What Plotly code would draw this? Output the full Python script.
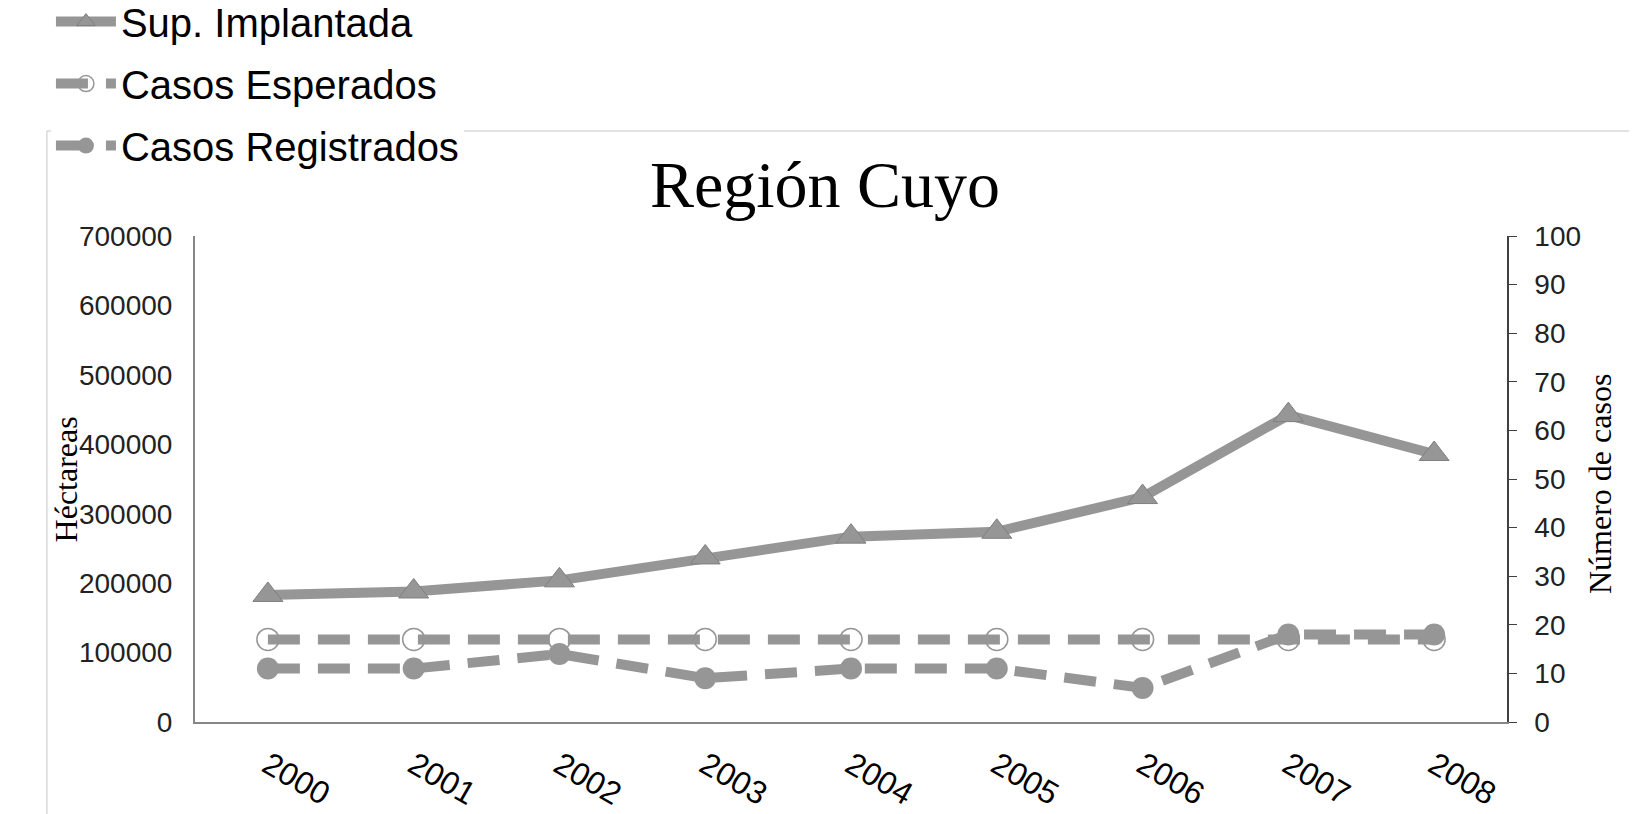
"""
Región Cuyo: superficie implantada y casos esperados / registrados.
"""

import plotly.graph_objects as go

# Datos
ANIOS = ["2000", "2001", "2002", "2003", "2004", "2005", "2006", "2007", "2008"]
SUP_IMPLANTADA = [183000, 188000, 204000, 237000, 267000, 274000, 324000, 442000, 386000]
CASOS_ESPERADOS = [17, 17, 17, 17, 17, 17, 17, 17, 17]
CASOS_REGISTRADOS = [11, 11, 14, 9, 11, 11, 7, 18, 18]

GRIS = "#969696"
GRIS_BORDE = "#7f7f7f"
FUENTE = "Liberation Sans, Arial, sans-serif"
FUENTE_SERIF = "Liberation Serif, Times New Roman, serif"

# la página deja 8 px de margen alrededor de la figura
ANCHO, ALTO = 1629, 806

fig = go.Figure()

fig.add_trace(go.Scatter(
    x=ANIOS, y=SUP_IMPLANTADA,
    name="Sup. Implantada",
    mode="lines+markers",
    line=dict(color=GRIS, width=10),
    marker=dict(symbol="triangle-up", size=26, color=GRIS,
                line=dict(color=GRIS_BORDE, width=1)),
    legendgroup="a",
    yaxis="y",
))

fig.add_trace(go.Scatter(
    x=ANIOS, y=CASOS_ESPERADOS,
    name="Casos Esperados",
    mode="lines+markers",
    line=dict(color=GRIS, width=10, dash="32px,18px"),
    marker=dict(symbol="circle-open", size=22, color=GRIS,
                line=dict(color=GRIS, width=1.5)),
    legendgroup="b",
    yaxis="y2",
))

fig.add_trace(go.Scatter(
    x=ANIOS, y=CASOS_REGISTRADOS,
    name="Casos Registrados",
    mode="lines+markers",
    line=dict(color=GRIS, width=10, dash="32px,18px"),
    marker=dict(symbol="circle", size=22, color=GRIS),
    legendgroup="c",
    yaxis="y2",
))

fig.update_layout(
    width=ANCHO,
    height=ALTO,
    paper_bgcolor="white",
    plot_bgcolor="white",
    font=dict(family=FUENTE, color="black"),
    margin=dict(l=187, r=130, t=228, b=92, autoexpand=False),
    title=dict(
        text="Región Cuyo",
        font=dict(family=FUENTE_SERIF, size=66, color="black"),
        x=817 / ANCHO, xanchor="center",
        y=1 - 176 / ALTO, yanchor="middle",
    ),
    legend=dict(
        xref="paper", yref="paper",
        x=-0.1098, y=1.508,
        xanchor="left", yanchor="top",
        bgcolor="white",
        font=dict(family=FUENTE, size=40, color="black"),
        traceorder="grouped",
        tracegroupgap=7,
        itemwidth=60,
    ),
    xaxis=dict(
        type="category",
        range=[-0.5, 8.5],
        showgrid=False,
        showline=True,
        linecolor="#868686",
        linewidth=2,
        ticks="",
        tickangle=30,
        tickfont=dict(size=32, color="black"),
        ticklabelstandoff=10,
        zeroline=False,
    ),
    yaxis=dict(
        range=[0, 700000],
        dtick=100000,
        tickformat="d",
        showgrid=False,
        showline=True,
        linecolor="#868686",
        linewidth=2,
        ticks="",
        tickfont=dict(size=28, color="#222222"),
        ticklabelstandoff=15,
        zeroline=False,
    ),
    yaxis2=dict(
        range=[0, 100],
        dtick=10,
        overlaying="y",
        side="right",
        showgrid=False,
        showline=True,
        linecolor="#404040",
        linewidth=1.5,
        ticks="outside",
        ticklen=8,
        tickcolor="#404040",
        tickfont=dict(size=28, color="#222222"),
        ticklabelstandoff=12,
        zeroline=False,
    ),
    yaxis3=dict(
        range=[0, 100],
        dtick=10,
        overlaying="y",
        side="right",
        showgrid=False,
        showline=False,
        ticks="inside",
        ticklen=8,
        tickcolor="#404040",
        showticklabels=False,
        zeroline=False,
    ),
)

# títulos de ejes
fig.add_annotation(
    text="Héctareas", textangle=-90,
    xref="paper", yref="paper",
    x=-0.098, y=0.50, xanchor="center", yanchor="middle",
    showarrow=False,
    font=dict(family=FUENTE_SERIF, size=32, color="black"),
)
fig.add_annotation(
    text="Número de casos", textangle=-90,
    xref="paper", yref="paper",
    x=1.071, y=0.49, xanchor="center", yanchor="middle",
    showarrow=False,
    font=dict(family=FUENTE_SERIF, size=32, color="black"),
)

# borde del área del gráfico
borde_y = 1 + (236 - 131) / 486
fig.add_shape(
    type="line", xref="paper", yref="paper",
    x0=-0.1129, x1=1.1, y0=borde_y, y1=borde_y,
    line=dict(color="#d9d9d9", width=1.5), layer="below",
)
fig.add_shape(
    type="line", xref="paper", yref="paper",
    x0=-0.1129, x1=-0.1129, y0=borde_y, y1=-0.2,
    line=dict(color="#d9d9d9", width=1.5), layer="below",
)

fig.write_html("out.html")
